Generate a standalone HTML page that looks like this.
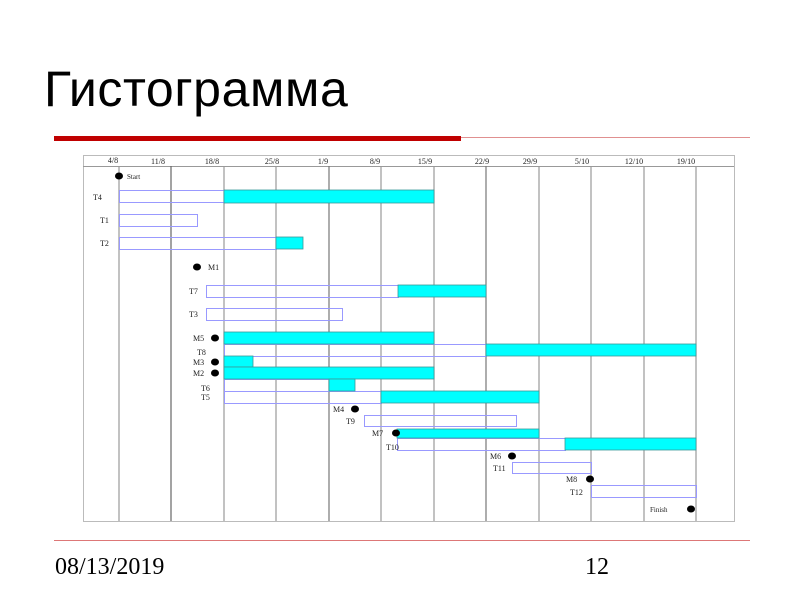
<!DOCTYPE html>
<html><head><meta charset="utf-8"><style>
body{margin:0;width:800px;height:600px;background:#fff;overflow:hidden;position:relative;font-family:"Liberation Sans",sans-serif}
.t{position:absolute;left:44px;top:60px;font-size:50px;color:#000;letter-spacing:0.6px}
.f{position:absolute;font-family:"Liberation Serif",serif;font-size:24px;top:554px}
</style></head><body>
<div class="t">Гистограмма</div>
<div style="position:absolute;left:54px;top:136px;width:407px;height:5px;background:#c00000"></div>
<div style="position:absolute;left:461px;top:137px;width:289px;height:1px;background:#e09090"></div>
<div style="position:absolute;left:54px;top:540px;width:696px;height:1px;background:#d77"></div>
<div class="f" style="left:55px">08/13/2019</div>
<div class="f" style="left:585px">12</div>
<svg width="800" height="600" style="position:absolute;left:0;top:0" font-family="Liberation Serif,serif" font-size="8" fill="#222">
<rect x="83.5" y="155.5" width="651" height="366" fill="none" stroke="#bbb"/>
<line x1="83" y1="166.5" x2="734" y2="166.5" stroke="#999"/>
<g stroke="#999" stroke-width="1.2">
<line x1="119" y1="166" x2="119" y2="521"/><line x1="171" y1="166" x2="171" y2="521" stroke="#666"/><line x1="224" y1="166" x2="224" y2="521"/><line x1="276" y1="166" x2="276" y2="521"/><line x1="329" y1="166" x2="329" y2="521" stroke="#777"/><line x1="381" y1="166" x2="381" y2="521"/><line x1="434" y1="166" x2="434" y2="521"/><line x1="486" y1="166" x2="486" y2="521" stroke="#777"/><line x1="539" y1="166" x2="539" y2="521"/><line x1="591" y1="166" x2="591" y2="521"/><line x1="644" y1="166" x2="644" y2="521"/><line x1="696" y1="166" x2="696" y2="521"/>
</g>
<g text-anchor="middle"><text x="113" y="163">4/8</text><text x="158" y="164">11/8</text><text x="212" y="164">18/8</text><text x="272" y="164">25/8</text><text x="323" y="164">1/9</text><text x="375" y="164">8/9</text><text x="425" y="164">15/9</text><text x="482" y="164">22/9</text><text x="530" y="164">29/9</text><text x="582" y="164">5/10</text><text x="634" y="164">12/10</text><text x="686" y="164">19/10</text></g>
<g fill="none" stroke="#99f">
<rect x="119.5" y="190.5" width="105" height="12"/><rect x="119.5" y="214.5" width="78" height="12"/><rect x="119.5" y="237.5" width="157" height="12"/>
<rect x="206.5" y="285.5" width="192" height="12"/><rect x="206.5" y="308.5" width="136" height="12"/>
<rect x="224.5" y="344.5" width="262" height="12"/><rect x="224.5" y="379.5" width="105" height="12"/><rect x="224.5" y="391.5" width="157" height="12"/>
<rect x="364.5" y="415.5" width="152" height="11"/><rect x="397.5" y="438.5" width="168" height="12"/><rect x="512.5" y="462.5" width="79" height="11"/><rect x="591.5" y="485.5" width="105" height="12"/>
</g>
<g fill="#00ffff" stroke="#3a9a9a" stroke-width="0.8">
<rect x="224" y="190" width="210" height="13"/><rect x="276" y="237" width="27" height="12"/><rect x="398" y="285" width="88" height="12"/>
<rect x="224" y="332" width="210" height="12"/><rect x="486" y="344" width="210" height="12"/><rect x="224" y="356" width="29" height="11"/><rect x="224" y="367" width="210" height="12"/>
<rect x="329" y="379" width="26" height="12"/><rect x="381" y="391" width="158" height="12"/><rect x="397" y="429" width="142" height="9"/><rect x="565" y="438" width="131" height="12"/>
</g>
<g fill="#000"><ellipse cx="119" cy="176" rx="4" ry="3.5"/><ellipse cx="197" cy="267" rx="4" ry="3.5"/><ellipse cx="215" cy="338" rx="4" ry="3.5"/><ellipse cx="215" cy="362" rx="4" ry="3.5"/><ellipse cx="215" cy="373" rx="4" ry="3.5"/><ellipse cx="355" cy="409" rx="4" ry="3.5"/><ellipse cx="396" cy="433" rx="4" ry="3.5"/><ellipse cx="512" cy="456" rx="4" ry="3.5"/><ellipse cx="590" cy="479" rx="4" ry="3.5"/><ellipse cx="691" cy="509" rx="4" ry="3.5"/></g>
<text x="127" y="179" font-size="7">Start</text><text x="93" y="200">T4</text><text x="100" y="223">T1</text><text x="100" y="246">T2</text><text x="208" y="270">M1</text>
<text x="189" y="294">T7</text><text x="189" y="317">T3</text><text x="193" y="341">M5</text><text x="197" y="355">T8</text><text x="193" y="365">M3</text><text x="193" y="376">M2</text><text x="201" y="391">T6</text><text x="201" y="400">T5</text>
<text x="333" y="412">M4</text><text x="346" y="424">T9</text><text x="372" y="436">M7</text><text x="386" y="450">T10</text><text x="490" y="459">M6</text><text x="493" y="471">T11</text><text x="566" y="482">M8</text><text x="570" y="495">T12</text><text x="650" y="512" font-size="7">Finish</text>
</svg>
</body></html>
